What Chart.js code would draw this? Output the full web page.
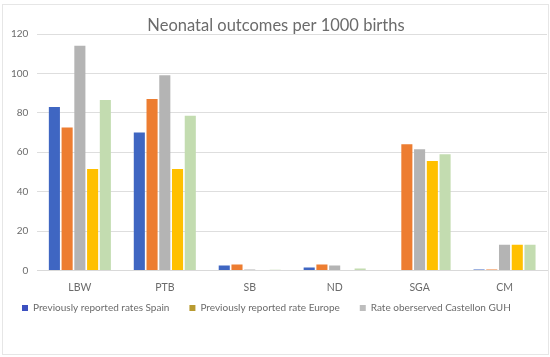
<!DOCTYPE html>
<html>
<head>
<meta charset="utf-8">
<script src="https://cdn.jsdelivr.net/npm/chart.js@4"></script>
<style>
  html, body { margin: 0; padding: 0; background: #fff; }
  #wrap { width: 550px; height: 357px; position: relative; box-sizing: border-box; }
  #frame { position: absolute; left: 2px; top: 4px; width: 547px; height: 351px; border: 1px solid #e6e6e6; box-sizing: border-box; pointer-events: none; }
</style>
</head>
<body>
<div id="wrap">
  <canvas id="outcomes" width="550" height="357"></canvas>
  <div id="frame"></div>
</div>
<script>
const ctx = document.getElementById('outcomes');

const CATEGORIES = ['LBW', 'PTB', 'SB', 'ND', 'SGA', 'CM'];

const SERIES_NAMES = [
  'Previously reported rates Spain',
  'Previously reported rate Europe',
  'Rate oberserved Castellon GUH',
  'Rate observed Dr Peset UH',
  'Rate observed Valencia Region'
];

const SPAIN = [83, 70, 2.5, 1.5, 0, 0.5];
const EUROPE = [72.5, 87, 3, 3, 64, 0.5];
const CASTELLON = [114, 99, 0.4, 2.5, 61.5, 13];
const PESET = [51.5, 51.5, 0, 0, 55.5, 13];
const VALENCIA = [86.5, 78.5, 0.3, 1, 59, 13];

const Y_TICKS = [0, 20, 40, 60, 80, 100, 120];

const BAR_COLORS = ['#3f66c2', '#ed7d31', '#b4b4b4', '#ffc000', '#c3dcb0'];
const LEGEND_COLORS = ['#3c50c0', '#b89a30', '#bdbdbd', '#c8c800', '#c9d6bd'];

const FONT = 'Lato, "Open Sans", sans-serif';
const TEXT_COLOR = '#6b6b6b';

const values = [SPAIN, EUROPE, CASTELLON, PESET, VALENCIA];

let datasets = [];
SERIES_NAMES.forEach((name, i) => {
  datasets.push({
    label: name,
    data: values[i],
    backgroundColor: BAR_COLORS[i],
    borderWidth: 0,
    categoryPercentage: 0.75,
    barPercentage: 0.87
  });
});

// title sits inside the frame, over the plot top
const titlePlugin = {
  id: 'titleInPlot',
  afterDraw(chart) {
    const c = chart.ctx;
    const text = 'Neonatal outcomes per 1000 births';
    c.save();
    c.font = '16.5px ' + FONT;
    c.textAlign = 'center';
    c.textBaseline = 'middle';
    const w = c.measureText(text).width;
    c.fillStyle = '#fff';
    c.fillRect(276 - w / 2 - 4, 17, w + 8, 16);
    c.fillStyle = TEXT_COLOR;
    c.fillText(text, 276, 26);
    c.restore();
  }
};

// legend rows sit a bit higher than chart.js puts them (its top gap is wide)
const legendNudge = {
  id: 'legendNudge',
  afterLayout(chart) {
    if (chart.legend) {
      chart.legend.top -= 22;
      chart.legend.bottom -= 22;
    }
  }
};

const config = {
  type: 'bar',
  data: { labels: CATEGORIES, datasets },
  plugins: [titlePlugin, legendNudge],
  options: {
    responsive: false,
    animation: false,
    layout: { padding: { left: 2, right: 3, top: 34, bottom: 2 } },
    plugins: {
      title: { display: false },
      tooltip: { enabled: false },
      legend: {
        position: 'bottom',
        align: 'start',
        maxHeight: 50,
        labels: {
          boxWidth: 6,
          boxHeight: 6,
          padding: 20,
          color: TEXT_COLOR,
          font: { size: 10, family: FONT },
          generateLabels(chart) {
            return chart.data.datasets.map((ds, i) => ({
              text: ds.label,
              fillStyle: LEGEND_COLORS[i],
              strokeStyle: LEGEND_COLORS[i],
              lineWidth: 0,
              datasetIndex: i,
              fontColor: TEXT_COLOR
            }));
          }
        }
      }
    },
    scales: {
      x: {
        grid: { display: false, drawTicks: false },
        border: { color: '#d9d9d9' },
        ticks: { color: TEXT_COLOR, font: { size: 10.5, family: FONT }, padding: 11 }
      },
      y: {
        min: 0,
        max: 120,
        afterBuildTicks(axis) {
          axis.ticks = Y_TICKS.map(v => ({ value: v }));
        },
        grid: { color: '#dedede', drawTicks: false },
        border: { display: false },
        ticks: { color: TEXT_COLOR, font: { size: 10, family: FONT }, padding: 9 }
      }
    }
  }
};

new Chart(ctx, config);
</script>
</body>
</html>
